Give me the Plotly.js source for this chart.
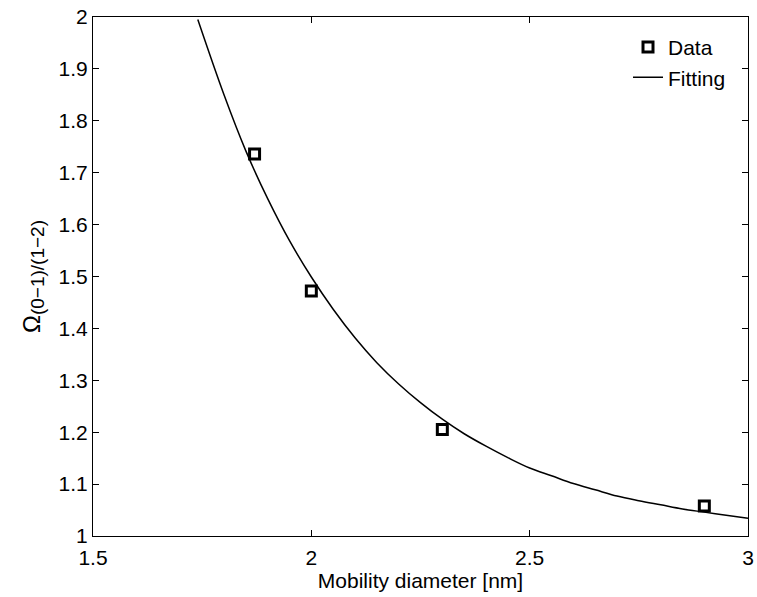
<!DOCTYPE html>
<html>
<head>
<meta charset="utf-8">
<script src="https://cdn.plot.ly/plotly-3.0.1.min.js"></script>
<style>html,body{margin:0;padding:0;background:#fff;}#chart{width:757px;height:597px;}</style>
</head>
<body>
<div id="chart"></div>
<script>
// Measured data points
var dataX = [1.87, 2.0, 2.3, 2.9];
var dataY = [1.736, 1.472, 1.205, 1.058];

// Fitted curve
var fitX = [1.74, 1.80, 1.85, 1.90, 1.95, 2.00, 2.05, 2.10, 2.15, 2.20, 2.25, 2.30, 2.35, 2.40, 2.45, 2.50,
            2.55, 2.60, 2.65, 2.70, 2.75, 2.80, 2.85, 2.90, 2.95, 3.00];
var fitY = [1.995, 1.850, 1.742, 1.650, 1.569, 1.499, 1.437, 1.382, 1.334, 1.293, 1.257, 1.225, 1.197, 1.173, 1.151, 1.131,
            1.116, 1.101, 1.089, 1.077, 1.068, 1.060, 1.052, 1.046, 1.040, 1.034];

var xTicks = [1.5, 2, 2.5, 3];
var xTickText = ['1.5', '2', '2.5', '3'];
var yTicks = [1, 1.1, 1.2, 1.3, 1.4, 1.5, 1.6, 1.7, 1.8, 1.9, 2];
var yTickText = ['1', '1.1', '1.2', '1.3', '1.4', '1.5', '1.6', '1.7', '1.8', '1.9', '2'];

var font = {family: 'Liberation Sans, Arial, sans-serif', size: 21, color: '#000'};

var traces = [
  {
    x: fitX, y: fitY, type: 'scatter', mode: 'lines', name: 'Fitting',
    line: {color: '#000', width: 1.5, shape: 'spline', smoothing: 1},
    legendrank: 2
  },
  {
    x: dataX, y: dataY, type: 'scatter', mode: 'markers', name: 'Data',
    marker: {symbol: 'square', size: 10, color: '#fff', line: {color: '#000', width: 3}},
    legendrank: 1
  }
];

var axisCommon = {
  showgrid: false, zeroline: false, showline: true, linecolor: '#000', linewidth: 1,
  mirror: 'ticks', ticks: 'inside', ticklen: 6, tickwidth: 1, tickcolor: '#000',
  tickfont: font
};

var layout = {
  width: 757, height: 597,
  margin: {l: 93, r: 9, t: 17, b: 61},
  paper_bgcolor: '#fff', plot_bgcolor: '#fff',
  font: font,
  showlegend: true,
  legend: {
    x: 0.8168, y: 0.981, xanchor: 'left', yanchor: 'top',
    bgcolor: 'rgba(255,255,255,1)', borderwidth: 0,
    font: font, tracegroupgap: 0
  },
  xaxis: Object.assign({}, axisCommon, {
    range: [1.5, 3], tickvals: xTicks, ticktext: xTickText, ticklabelstandoff: 3,
    title: {text: 'Mobility diameter [nm]', font: font, standoff: 2}
  }),
  yaxis: Object.assign({}, axisCommon, {
    range: [1, 2], tickvals: yTicks, ticktext: yTickText,
    title: {text: '<span style="font-size:24px">Ω</span><sub><span style="font-size:19px">(0−1)/(1−2)</span></sub>', font: font, standoff: 12}
  })
};

Plotly.newPlot('chart', traces, layout, {displayModeBar: false, staticPlot: true});
</script>
</body>
</html>
